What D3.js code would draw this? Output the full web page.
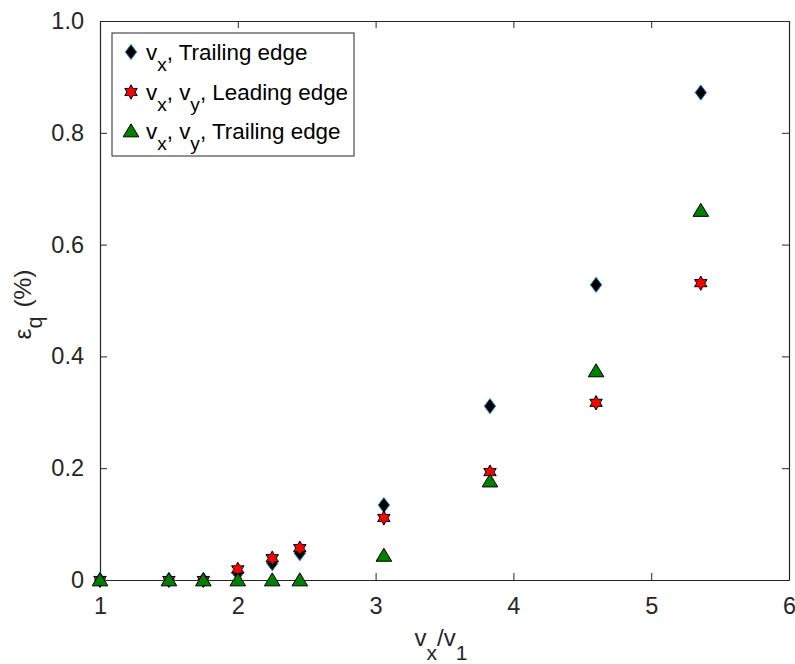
<!DOCTYPE html>
<html><head><meta charset="utf-8">
<script src="https://cdn.jsdelivr.net/npm/d3@7"></script>
<style>body{margin:0;background:#fff;} svg{display:block;font-family:"Liberation Sans",Arial,Helvetica,sans-serif;} text{white-space:pre;}</style>
</head><body>
<svg id="c" width="795" height="664"></svg>
<script>
const xValues = [1, 1.5, 1.75, 2, 2.25, 2.45, 3.06, 3.83, 4.6, 5.36];
const vxTrailing = [0, 0, 0, 0.012, 0.03, 0.048, 0.134, 0.311, 0.528, 0.872];
const vxvyLeading = [0, 0, 0, 0.019, 0.039, 0.057, 0.111, 0.193, 0.317, 0.531];
const vxvyTrailing = [0, 0, 0, 0, 0, 0, 0.044, 0.177, 0.374, 0.661];
const xTicks = [1, 2, 3, 4, 5, 6];
const yTicks = [0, 0.2, 0.4, 0.6, 0.8, 1.0];
const yTickLabels = ["0", "0.2", "0.4", "0.6", "0.8", "1.0"];
// legend labels: [text, isSubscript]
const legendLabels = [
  [["v",0],["x",1],[", Trailing edge",0]],
  [["v",0],["x",1],[", v",0],["y",1],[", Leading edge",0]],
  [["v",0],["x",1],[", v",0],["y",1],[", Trailing edge",0]]
];
const xLabelParts = [["v",0],["x",1],["/v",0],["1",1]];
const yLabelParts = [["ε",0],["q",1],["(%)",0]];

const svg = d3.select("#c");
const L = 100, R = 789, T = 21, B = 580;
const x = d3.scaleLinear().domain([1, 6]).range([L, R]);
const y = d3.scaleLinear().domain([0, 1]).range([B, T]);
const axc = "#262626";
const fs = 23.5;

// axes
const gx = svg.append("g").attr("transform", `translate(0,${B})`)
  .call(d3.axisBottom(x).tickValues(xTicks).tickFormat(d3.format("d")).tickSizeInner(-7).tickSizeOuter(0).tickPadding(17));
const gxt = svg.append("g").attr("transform", `translate(0,${T})`)
  .call(d3.axisTop(x).tickValues(xTicks).tickFormat("").tickSizeInner(-7).tickSizeOuter(0));
const gy = svg.append("g").attr("transform", `translate(${L},0)`)
  .call(d3.axisLeft(y).tickValues(yTicks).tickFormat((d,i)=>yTickLabels[i]).tickSizeInner(-7).tickSizeOuter(0).tickPadding(16));
const gyr = svg.append("g").attr("transform", `translate(${R},0)`)
  .call(d3.axisRight(y).tickValues(yTicks).tickFormat("").tickSizeInner(-7).tickSizeOuter(0));
[gx, gxt, gy, gyr].forEach(g => {
  g.selectAll("path.domain").attr("stroke", axc).attr("stroke-width", 1.2);
  g.selectAll(".tick line").attr("stroke", axc).attr("stroke-width", 1);
  g.selectAll("text").attr("fill", axc).style("font-size", fs + "px").style("font-family", '"Liberation Sans",Arial,sans-serif');
});
gx.selectAll("text").attr("dy", "0.71em");

// marker shapes
function diamondPath(cx, cy) { const w = 5.7, h = 7.6; return `M${cx},${cy-h}L${cx+w},${cy}L${cx},${cy+h}L${cx-w},${cy}Z`; }
function trianglePath(cx, cy) { const w = 7.8, h = 13; return `M${cx},${cy-h*0.55}L${cx+w},${cy+h*0.45}L${cx-w},${cy+h*0.45}Z`; }
function hexagramPath(cx, cy) {
  const ro = 7.2, ri = 4.0; let p = "";
  for (let i = 0; i < 12; i++) {
    const r = i % 2 === 0 ? ro : ri;
    const a = -Math.PI/2 + i * Math.PI/6;
    p += (i ? "L" : "M") + (cx + r*Math.cos(a)).toFixed(2) + "," + (cy + r*Math.sin(a)).toFixed(2);
  }
  return p + "Z";
}
const series = [
  {vals: vxTrailing, shape: diamondPath, fill: "#000", stroke: "#1a8fdc"},
  {vals: vxvyLeading, shape: hexagramPath, fill: "#ff0000", stroke: "#000"},
  {vals: vxvyTrailing, shape: trianglePath, fill: "#008000", stroke: "#000"}
];
series.forEach(s => {
  svg.append("g").selectAll("path").data(xValues).join("path")
    .attr("d", (d, i) => s.shape(x(d), y(s.vals[i])))
    .attr("fill", s.fill).attr("stroke", s.stroke).attr("stroke-width", 1);
});

function richText(t, parts, size, subScale, drop, gapAfterSub) {
  let shifted = false;
  parts.forEach(([txt, sub], i) => {
    const ts = t.append("tspan").text(txt);
    if (sub) { ts.attr("dy", shifted ? 0 : drop).style("font-size", (size*subScale) + "px"); shifted = true; }
    else {
      ts.attr("dy", shifted ? -drop : 0).style("font-size", size + "px");
      if (shifted && gapAfterSub) ts.attr("dx", gapAfterSub);
      shifted = false;
    }
  });
}

// legend
const lg = svg.append("g");
lg.append("rect").attr("x", 112).attr("y", 33).attr("width", 242).attr("height", 123)
  .attr("fill", "#fff").attr("stroke", axc).attr("stroke-width", 1);
const lfs = 22.4;
const rowsY = [52, 92, 131];
series.forEach((s, k) => {
  lg.append("path").attr("d", s.shape(131, rowsY[k])).attr("fill", s.fill).attr("stroke", s.stroke).attr("stroke-width", 1);
  const t = lg.append("text").attr("x", 146).attr("y", rowsY[k] + 7.5).attr("fill", "#000");
  richText(t, legendLabels[k], lfs, 0.85, 11, 0);
});

// x label
const xfs = 24;
const xl = svg.append("text").attr("x", 441).attr("y", 646).attr("text-anchor", "middle").attr("fill", axc);
richText(xl, xLabelParts, xfs, 0.88, 14, 0);

// y label
const yl = svg.append("text").attr("transform", `translate(31,${(T+B)/2 + 4}) rotate(-90)`).attr("text-anchor", "middle").attr("fill", axc);
richText(yl, yLabelParts, 24.5, 0.88, 11, 9);
</script>
</body></html>
